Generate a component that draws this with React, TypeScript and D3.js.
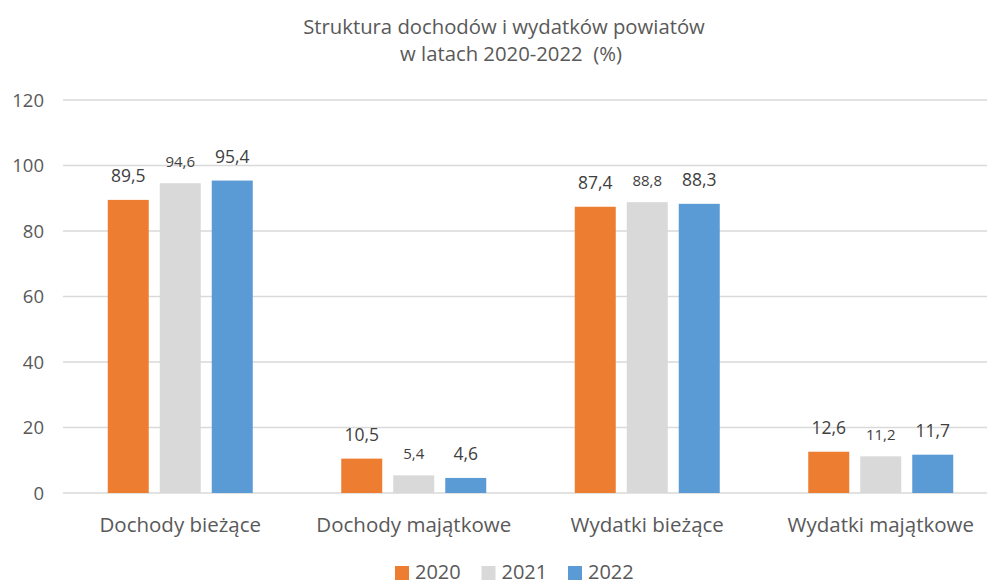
import React from "react";
import * as d3 from "d3";

const categories = ["Dochody bieżące", "Dochody majątkowe", "Wydatki bieżące", "Wydatki majątkowe"];
const years = ["2020", "2021", "2022"];
const values2020 = [89.5, 10.5, 87.4, 12.6];
const values2021 = [94.6, 5.4, 88.8, 11.2];
const values2022 = [95.4, 4.6, 88.3, 11.7];
const yTicks = [0, 20, 40, 60, 80, 100, 120];
const colors = ["#ED7D31", "#D9D9D9", "#5B9BD5"];
const labelSizes = [17.5, 15, 17.5];

const W = 987;
const H = 585;
const FONT = "'Open Sans', sans-serif";
const TEXT = "#595959";

export default function App() {
  const series = [values2020, values2021, values2022];
  const x = d3.scaleBand<string>().domain(categories).range([63.5, 997.5]).paddingInner(0).paddingOuter(0);
  const y = d3.scaleLinear().domain([0, 120]).range([493, 100]);
  const bw = 41;
  const step = 52;
  const fmt = (v: number) => v.toFixed(1).replace(".", ",");

  return (
    <svg width={W} height={H} style={{ position: "absolute", left: 0, top: 0, background: "#fff" }} fontFamily={FONT}>
      <text x={504} y={34} textAnchor="middle" fontSize={20.3} fill={TEXT}>Struktura dochodów i wydatków powiatów</text>
      <text x={511} y={61} textAnchor="middle" fontSize={20.3} fill={TEXT} style={{ whiteSpace: "pre" }}>{"w latach 2020-2022  (%)"}</text>
      {yTicks.map((t) => (
        <g key={t}>
          <line x1={63} x2={W} y1={y(t)} y2={y(t)} stroke="#D9D9D9" strokeWidth={1.5} />
          <text x={44} y={y(t)} dy="0.36em" textAnchor="end" fontSize={18.5} fill={TEXT}>{t}</text>
        </g>
      ))}
      {categories.map((c, ci) => {
        const cx = (x(c) as number) + x.bandwidth() / 2;
        return (
          <g key={c}>
            {series.map((s, si) => {
              const bx = cx + (si - 1) * step - bw / 2;
              return (
                <g key={si}>
                  <rect x={bx} y={y(s[ci])} width={bw} height={y(0) - y(s[ci])} fill={colors[si]} />
                  <text x={bx + bw / 2} y={y(s[ci]) - (si === 1 ? 16 : 17.5)} textAnchor="middle" fontSize={labelSizes[si]} fill="#404040">{fmt(s[ci])}</text>
                </g>
              );
            })}
            <text x={cx} y={532} textAnchor="middle" fontSize={20.5} fill={TEXT}>{c}</text>
          </g>
        );
      })}
      {years.map((yr, i) => {
        const lx = 395 + i * 86.5;
        return (
          <g key={yr}>
            <rect x={lx} y={566} width={14} height={14} fill={colors[i]} />
            <text x={lx + 20} y={578.5} fontSize={20} fill={TEXT}>{yr}</text>
          </g>
        );
      })}
    </svg>
  );
}
